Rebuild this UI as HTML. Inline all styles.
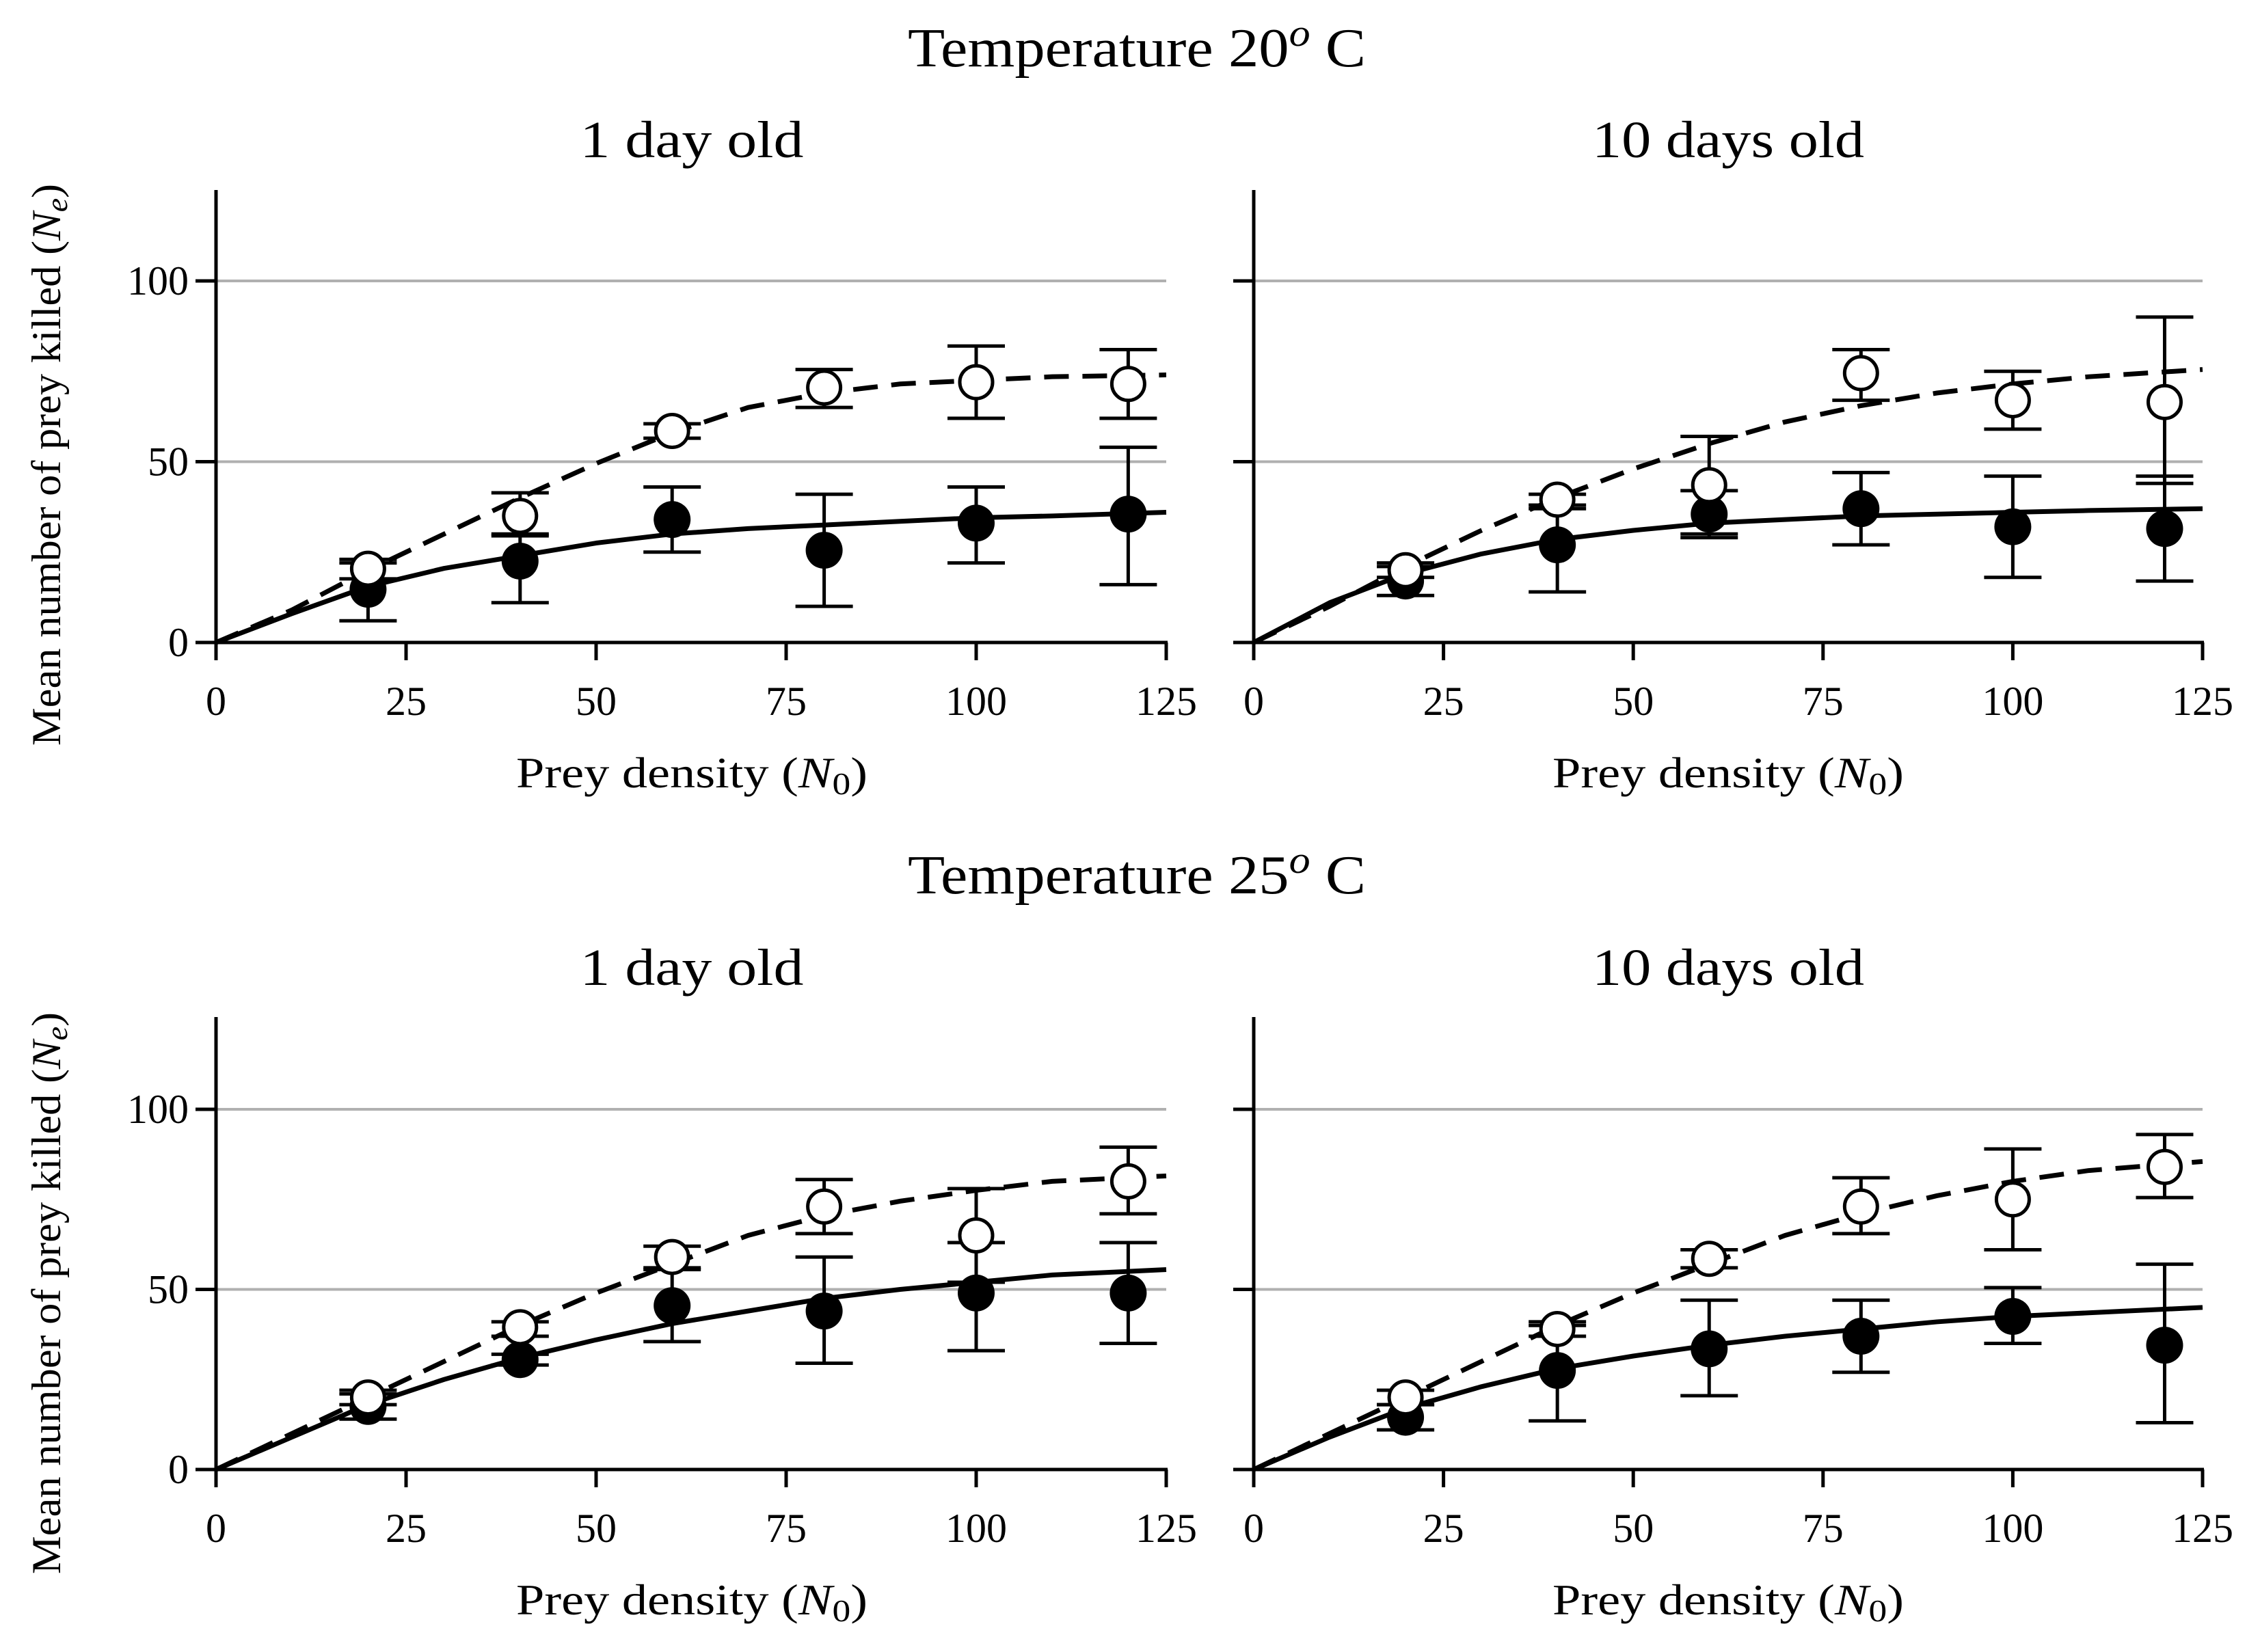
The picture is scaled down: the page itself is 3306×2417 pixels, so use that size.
<!DOCTYPE html>
<html><head><meta charset="utf-8"><style>
html,body{margin:0;padding:0;background:#fff}
svg{display:block}
text{font-family:"Liberation Serif",serif;fill:#000}
</style></head><body>
<svg id="chart" width="3306" height="2417" viewBox="0 0 3306 2417" xmlns="http://www.w3.org/2000/svg"></svg>
<script>
const xTicks=[0,25,50,75,100,125];
const yTicks=[0,50,100];
const pointX=[20,40,60,80,100,120];
const curveX=[0,10,20,30,40,50,60,70,80,90,100,110,125];

const tl_filled=[14.7,22.5,34,25.5,33,35.5];
const tl_filledLo=[6,11,25,10,22,16];
const tl_filledHi=[22,30,43,41,43,54];
const tl_open=[20.4,35,58.5,70.5,72,71.5];
const tl_openLo=[17.6,29.5,56.5,65,62,62];
const tl_openHi=[23,41.4,60.5,75.5,82,81];
const tl_dash=[0,9,20,30,40,49.5,58,65,69,71.5,72.5,73.5,74];
const tl_solid=[0,8,15.5,20.5,24,27.5,30,31.5,32.5,33.5,34.5,35,36];

const tr_filled=[17,27,35.5,37,32,31.5];
const tr_filledLo=[13,14,29,27,18,17];
const tr_filledHi=[21,37,42,47,46,46];
const tr_open=[20,39.5,43.5,74.5,67,66.5];
const tr_openLo=[18,38,30,67,59,44];
const tr_openHi=[22,41,57,81,75,90];
const tr_dash=[0,10,21,31,40,48,55,61,65.5,69,71.5,73.5,75.5];
const tr_solid=[0,11,19,24.5,28.5,31,33,34,35,35.5,36,36.5,37];

const bl_filled=[17.5,30.5,45.5,44,49,49];
const bl_filledLo=[14,29,35.5,29.5,33,35];
const bl_filledHi=[21,32,55.5,59,63,63];
const bl_open=[20,39.5,59,73,65,80];
const bl_openLo=[18,37,56,65.5,52,71];
const bl_openHi=[22,41,62,80.5,78,89.5];
const bl_dash=[0,10,20,30,40,49,57,65,70.5,74.5,77.5,80,81.5];
const bl_solid=[0,9,18,25,31,36,40.5,44,47.5,50,52,54,55.5];

const br_filled=[14.5,27.5,33.5,37,42.5,34.5];
const br_filledLo=[11,13.5,20.5,27,35,13];
const br_filledHi=[18,40,47,47,50.5,57];
const br_open=[20,39,58.5,73,75,84];
const br_openLo=[18,37,56,65.5,61,75.5];
const br_openHi=[22,41,61,81,89,93];
const br_dash=[0,10,20,30,40,49,57,65,71,76,80,83,85.5];
const br_solid=[0,9,17,23,28,31.5,34.5,37,39,41,42.5,43.5,45];

const NS="http://www.w3.org/2000/svg";
const svg=document.getElementById('chart');
function mk(tag,attrs,parent){const e=document.createElementNS(NS,tag);for(const k in attrs)e.setAttribute(k,attrs[k]);(parent||svg).appendChild(e);return e;}

function txt(s,x,y,size,anchor,parent,name,len){
  const a={x:x,y:y,'font-size':size,'text-anchor':anchor||'middle'};
  if(len){a.textLength=len;a.lengthAdjust='spacingAndGlyphs';}
  const t=mk('text',a,parent);
  t.textContent=s;
  
  
  return t;
}

function panel(name,x0,x1,y0,y100,yTop,showY,d){
  const g=mk('g',{});
  
  
  const sx=v=>x0+(x1-x0)*v/125;
  const sy=v=>y0-(y0-y100)*v/100;
  yTicks.forEach(v=>{ if(v>0){const l=mk('line',{x1:x0,x2:x1,y1:sy(v),y2:sy(v),stroke:'#b0b0b0','stroke-width':4},g);
    
    }});
  const ax=mk('line',{x1:x0,x2:x0,y1:yTop,y2:y0+2,stroke:'#000','stroke-width':5},g);
  
  
  const axx=mk('line',{x1:x0-2,x2:x1+2,y1:y0,y2:y0,stroke:'#000','stroke-width':5},g);
  
  
  yTicks.forEach(v=>{const l=mk('line',{x1:x0-30,x2:x0,y1:sy(v),y2:sy(v),stroke:'#000','stroke-width':5},g);
    
    
    if(showY) txt(String(v),x0-40,sy(v)+20,60,'end',g,'y-tick-label');});
  xTicks.forEach(v=>{const l=mk('line',{x1:sx(v),x2:sx(v),y1:y0,y2:y0+26,stroke:'#000','stroke-width':5},g);
    
    
    txt(String(v),sx(v),y0+106,60,'middle',g,'x-tick-label');});
  const pts=arr=>curveX.map((c,i)=>sx(c)+','+sy(arr[i])).join(' ');
  const sl=mk('polyline',{points:pts(d.solid),fill:'none',stroke:'#000','stroke-width':7,'stroke-linejoin':'round'},g);
  
  
  const dl=mk('polyline',{points:pts(d.dash),fill:'none',stroke:'#000','stroke-width':7,'stroke-dasharray':'36 20'},g);
  
  
  function eb(lo,hi,nm){pointX.forEach((px,i)=>{
    const X=sx(px);
    const e=mk('g',{stroke:'#000','stroke-width':5},g);
    
    
    mk('line',{x1:X,x2:X,y1:sy(lo[i]),y2:sy(hi[i])},e);
    mk('line',{x1:X-42,x2:X+42,y1:sy(lo[i]),y2:sy(lo[i])},e);
    mk('line',{x1:X-42,x2:X+42,y1:sy(hi[i]),y2:sy(hi[i])},e);
  });}
  eb(d.filledLo,d.filledHi,'errorbar-filled');
  eb(d.openLo,d.openHi,'errorbar-open');
  pointX.forEach((px,i)=>{const c=mk('circle',{cx:sx(px),cy:sy(d.filled[i]),r:27,fill:'#000'},g);
    
    });
  pointX.forEach((px,i)=>{const c=mk('circle',{cx:sx(px),cy:sy(d.open[i]),r:24,fill:'#fff',stroke:'#000','stroke-width':5},g);
    
    });
}

function xlabel(cx,y){
  const t=mk('text',{x:cx,y:y,'font-size':64,'text-anchor':'middle',textLength:514,lengthAdjust:'spacingAndGlyphs'});
  
  
  t.innerHTML='Prey density (<tspan font-style="italic">N</tspan><tspan font-size="46" dy="10">0</tspan><tspan dy="-10">)</tspan>';
}
function ylabel(cx,cy){
  const t=mk('text',{x:0,y:0,'font-size':60,'text-anchor':'middle',textLength:822,lengthAdjust:'spacingAndGlyphs',transform:`translate(${cx},${cy}) rotate(-90)`});
  
  
  t.innerHTML='Mean number of prey killed (<tspan font-style="italic">N</tspan><tspan font-style="italic" font-size="44" dy="10">e</tspan><tspan dy="-10">)</tspan>';
}
function title(s,cx,y){
  const t=mk('text',{x:cx,y:y,'font-size':80,'text-anchor':'middle',textLength:670,lengthAdjust:'spacingAndGlyphs'});
  
  
  t.innerHTML='Temperature '+s+'<tspan font-style="italic" font-size="56" dy="-30">o</tspan><tspan dy="30"> C</tspan>';
}

const L0=316,L1=1706,R0=1834,R1=3222;
panel('panel-20c-1day',L0,L1,940,411,278,true,{filledLo:tl_filledLo,filledHi:tl_filledHi,filled:tl_filled,open:tl_open,openLo:tl_openLo,openHi:tl_openHi,dash:tl_dash,solid:tl_solid});
panel('panel-20c-10days',R0,R1,940,411,278,false,{filledLo:tr_filledLo,filledHi:tr_filledHi,filled:tr_filled,open:tr_open,openLo:tr_openLo,openHi:tr_openHi,dash:tr_dash,solid:tr_solid});
panel('panel-25c-1day',L0,L1,2150,1623,1488,true,{filledLo:bl_filledLo,filledHi:bl_filledHi,filled:bl_filled,open:bl_open,openLo:bl_openLo,openHi:bl_openHi,dash:bl_dash,solid:bl_solid});
panel('panel-25c-10days',R0,R1,2150,1623,1488,false,{filledLo:br_filledLo,filledHi:br_filledHi,filled:br_filled,open:br_open,openLo:br_openLo,openHi:br_openHi,dash:br_dash,solid:br_solid});

title('20',1663,97);
title('25',1663,1307);
[[1012,'1 day old',327],[2528,'10 days old',398]].forEach(([x,s,w])=>{
  txt(s,x,230,76,'middle',svg,'panel-title',w);
  txt(s,x,1441,76,'middle',svg,'panel-title',w);
});
xlabel(1012,1152);xlabel(2528,1152);
xlabel(1012,2362);xlabel(2528,2362);
ylabel(88,680);ylabel(88,1892);
</script>
</body></html>
